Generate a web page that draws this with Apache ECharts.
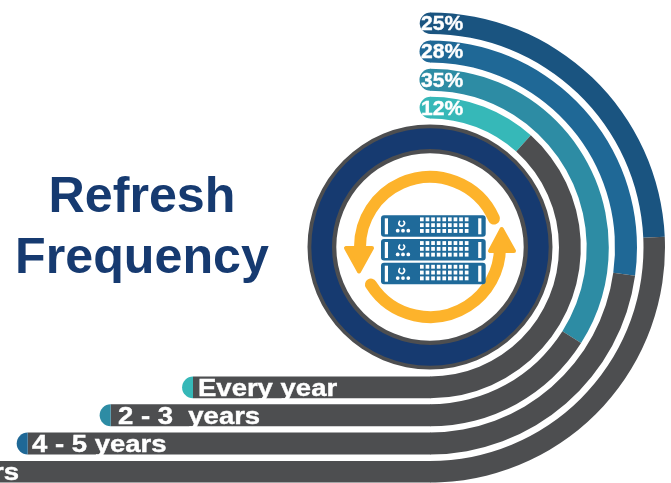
<!DOCTYPE html>
<html>
<head>
<meta charset="utf-8">
<style>html,body{margin:0;padding:0;background:#fff}#c{width:671px;height:483px}</style>
<script src="https://cdn.jsdelivr.net/npm/echarts@6/dist/echarts.min.js"></script>
</head>
<body>
<div id="c"></div>
<script>
// Data, outermost ring first
const categories = ['5+ years', '4 - 5 years', '2 - 3  years', 'Every year'];
const shares = [25, 28, 35, 12];
const titleLines = ['Refresh', 'Frequency'];

// Styling and layout
const ringColors = ['#1a5480', '#1f6896', '#2d8ca4', '#36b8b8'];
const DARK = '#4d4e50', NAVY = '#163a70', ORANGE = '#fdb32b', SERVER = '#1f6a9a';
const FONT = '"Liberation Sans", Arial, sans-serif';
const CX = 430, CY = 247.5;
const ringRadii = [[213.5, 235], [185, 207], [156.7, 178.8], [129, 150.8]];
const RING_TOTAL = 103;               // value that closes a full turn in this drawing
const barLeft = [-10, 27.7, 110.7, 193];
const percentY = [25, 52.5, 82, 110];
const labelX = [19, 32, 118, 198];

const rad = d => d * Math.PI / 180;
const graphics = [];

// Title
titleLines.forEach((t, i) => graphics.push({
  type: 'text', x: 142, y: [198, 259][i], silent: true,
  style: { text: t, fill: NAVY, font: 'bold 50.2px ' + FONT, align: 'center', verticalAlign: 'middle' }
}));

// Ring start caps, straight runs, bottom caps, labels
shares.forEach((v, i) => {
  const [r0, r1] = ringRadii[i];
  const mid = (r0 + r1) / 2, cap = (r1 - r0) / 2;
  graphics.push({ type: 'sector', silent: true,
    shape: { cx: CX + 0.5, cy: CY - mid, r: cap, r0: 0, startAngle: rad(90), endAngle: rad(270) },
    style: { fill: ringColors[i] } });
  graphics.push({ type: 'rect', silent: true,
    shape: { x: barLeft[i], y: CY + r0, width: CX + 0.5 - barLeft[i], height: r1 - r0 },
    style: { fill: DARK } });
  if (i > 0) graphics.push({ type: 'sector', silent: true,
    shape: { cx: barLeft[i], cy: CY + mid, r: cap, r0: 0, startAngle: rad(90), endAngle: rad(270) },
    style: { fill: ringColors[i] } });
  graphics.push({ type: 'text', x: 421, y: percentY[i], scaleX: 1.08, z: 20, silent: true,
    style: { text: v + '%', fill: '#fff', font: 'bold 19.5px ' + FONT, align: 'left', verticalAlign: 'middle',
      stroke: '#fff', lineWidth: 0.4 } });
  graphics.push({ type: 'text', x: labelX[i], y: CY + mid + 2, scaleX: 1.17, z: 20, silent: true,
    style: { text: categories[i], fill: '#fff', font: 'bold 23.5px ' + FONT,
      align: i === 0 ? 'right' : 'left', verticalAlign: 'middle', stroke: '#fff', lineWidth: 0.4 } });
});

// Centre badge
const BY = 247;
graphics.push({ type: 'ring', silent: true, shape: { cx: CX, cy: BY, r: 122.5, r0: 93.7 }, style: { fill: DARK } });
graphics.push({ type: 'ring', silent: true, z: 2, shape: { cx: CX, cy: BY, r: 118.7, r0: 98 }, style: { fill: NAVY } });

// Refresh arrows
const ARC_R = 70;
[[-24, -180], [147.5, 0]].forEach(a => graphics.push({
  type: 'arc', silent: true, z: 3,
  shape: { cx: CX, cy: BY, r: ARC_R, startAngle: rad(a[0]), endAngle: rad(a[1]), clockwise: false },
  style: { fill: null, stroke: ORANGE, lineWidth: 12, lineCap: 'round' }
}));
[[[346, 248], [372, 248], [359, 271.5]], [[490, 251], [514, 251], [501.7, 229]]].forEach(p => graphics.push({
  type: 'polygon', silent: true, z: 3, shape: { points: p },
  style: { fill: ORANGE, stroke: ORANGE, lineWidth: 4, lineJoin: 'round' }
}));

// Server stack
[215.3, 239, 262.7].forEach(top => {
  const add = (o) => graphics.push(Object.assign({ silent: true, z: 4 }, o));
  add({ type: 'rect', shape: { x: 381, y: top, width: 104.7, height: 21.5, r: 3 }, style: { fill: SERVER } });
  [384.8, 478.2].forEach(x => add({ type: 'rect', shape: { x, y: top + 3, width: 3.2, height: 16 }, style: { fill: '#fff' } }));
  for (let r = 0; r < 3; r++) for (let c = 0; c < 9; c++) {
    add({ type: 'rect', shape: { x: 420 + c * 5.6, y: top + 2.1 + r * 5.8, width: 3.7, height: 3.9 }, style: { fill: '#fff' } });
  }
  [397.7, 403, 408.3].forEach(x => add({ type: 'circle', shape: { cx: x, cy: top + 15.4, r: 1.9 }, style: { fill: '#fff' } }));
  add({ type: 'arc', shape: { cx: 401.7, cy: top + 8, r: 2.8, startAngle: rad(-60), endAngle: rad(-120), clockwise: true },
    style: { fill: null, stroke: '#fff', lineWidth: 1.6 } });
});

// Each ring: coloured share, dark run to the bottom, invisible remainder
const series = shares.map((v, i) => ({
  type: 'pie', silent: true, animation: false, z: 1,
  center: [CX, CY], radius: ringRadii[i], startAngle: 90, clockwise: true, minAngle: 0,
  avoidLabelOverlap: false, label: { show: false }, labelLine: { show: false },
  data: [
    { name: categories[i], value: v, itemStyle: { color: ringColors[i] } },
    { name: 'rest', value: RING_TOTAL / 2 - v, itemStyle: { color: DARK } },
    { name: 'blank', value: RING_TOTAL / 2, itemStyle: { color: 'rgba(0,0,0,0)' } }
  ]
}));

const chart = echarts.init(document.getElementById('c'));
chart.setOption({ animation: false, backgroundColor: '#fff', series, graphic: { elements: graphics } });
</script>
</body>
</html>
